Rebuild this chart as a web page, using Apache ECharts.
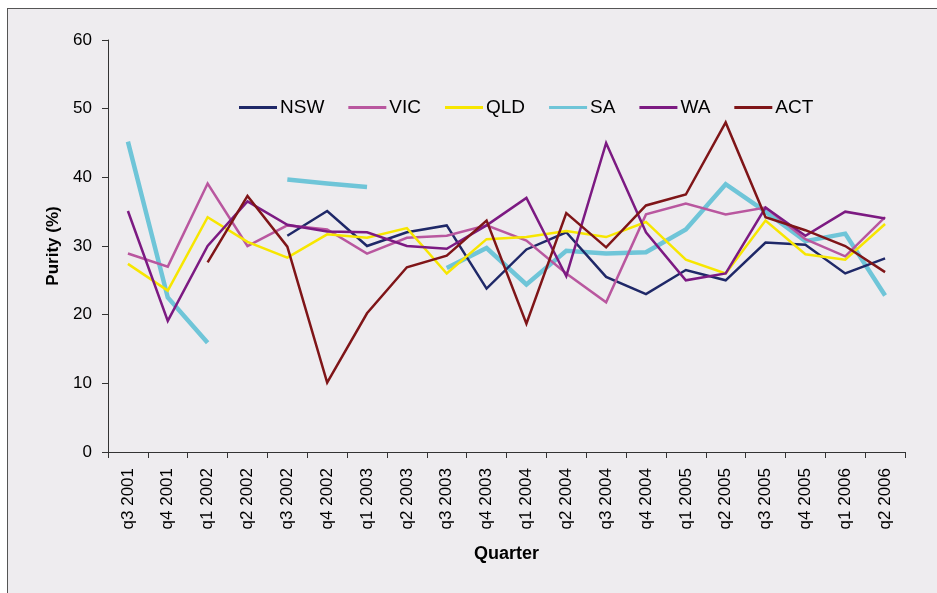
<!DOCTYPE html>
<html>
<head>
<meta charset="utf-8">
<script src="https://cdn.jsdelivr.net/npm/echarts@6/dist/echarts.min.js"></script>
<style>
html,body{margin:0;padding:0;background:#fff;}
#frame{position:absolute;left:7px;top:8px;width:940px;height:600px;background:#eeecef;border-left:1px solid #555;border-top:1px solid #555;}
#chart{position:absolute;left:0;top:0;width:937px;height:593px;}
</style>
</head>
<body>
<div id="frame"></div>
<div id="chart"></div>
<script>
var quarters = ['q3 2001','q4 2001','q1 2002','q2 2002','q3 2002','q4 2002','q1 2003','q2 2003','q3 2003','q4 2003',
    'q1 2004','q2 2004','q3 2004','q4 2004','q1 2005','q2 2005','q3 2005','q4 2005','q1 2006','q2 2006'];
var nsw = [null,null,null,null,31.5,35.1,30,32,33,23.8,29.5,32,25.5,23,26.5,25,30.5,30.2,26,28.2];
var vic = [28.9,27,39.1,30,33,32.4,28.9,31.2,31.5,33,30.8,26,21.8,34.6,36.2,34.6,35.6,31,28.5,34.2];
var qld = [27.4,23.5,34.2,30.6,28.3,31.7,31.2,32.6,26,31,31.3,32.2,31.3,33.5,28,26,33.7,28.8,28,33.2];
var sa = [45.2,22.5,15.9,null,39.7,39.1,38.6,null,26.8,29.7,24.4,29.3,28.9,29.1,32.4,39,35,30.7,31.8,22.8];
var wa = [35.1,19.1,30,36.5,33.1,32.1,32,30,29.6,33,37,25.6,45,32,25,26,35.6,31.5,35,34];
var act = [null,null,27.6,37.3,29.9,10.1,20.2,26.9,28.6,33.7,18.7,34.8,29.8,35.9,37.5,48,34.2,32.3,30,26.2];
var yTicks = [0,10,20,30,40,50,60];

var names = ['NSW','VIC','QLD','SA','WA','ACT'];
var values = [nsw, vic, qld, sa, wa, act];
var colors = ['#1f2868','#b9579f','#f7e600','#6fc5d8','#7c1a82','#7f1518'];
var widths = [2.5, 2.5, 2.5, 4.5, 2.5, 2.5];

var option = {
    animation: false,
    textStyle: { fontFamily: 'Liberation Sans, Arial, sans-serif', color: '#000' },
    grid: {
        left: 108,
        right: 32,
        top: 40,
        bottom: 141
    },
    legend: {
        left: 234,
        top: 93,
        itemWidth: 38,
        itemHeight: 3,
        itemGap: 24,
        icon: 'rect',
        textStyle: { fontSize: 19, color: '#000', padding: [0, 0, 0, -2] },
        data: names
    },
    xAxis: {
        type: 'category',
        data: quarters,
        boundaryGap: true,
        name: 'Quarter',
        nameLocation: 'middle',
        nameGap: 93,
        nameTextStyle: { fontSize: 18, fontWeight: 'bold', color: '#000' },
        axisLine: { lineStyle: { color: '#333', width: 1 } },
        axisTick: { show: true, length: 6, lineStyle: { color: '#333' } },
        axisLabel: { rotate: 90, fontSize: 17, color: '#000', margin: 16, interval: 0 }
    },
    yAxis: {
        type: 'value',
        min: 0,
        max: 60,
        interval: 10,
        name: 'Purity (%)',
        nameLocation: 'middle',
        nameGap: 46,
        nameTextStyle: { fontSize: 17, fontWeight: 'bold', color: '#000' },
        splitLine: { show: false },
        axisLine: { show: true, lineStyle: { color: '#333', width: 1 } },
        axisTick: { show: true, length: 6, lineStyle: { color: '#333' } },
        axisLabel: {
            fontSize: 17, color: '#000', margin: 16,
            formatter: function (v) { return yTicks.indexOf(v) >= 0 ? String(v) : ''; }
        }
    },
    series: function () {
        var serie = [];
        for (var i = 0; i < names.length; i++) {
            serie.push({
                name: names[i],
                type: 'line',
                data: values[i],
                showSymbol: false,
                symbol: 'none',
                connectNulls: false,
                z: i === 3 ? 1 : 2,
                itemStyle: { color: colors[i] },
                lineStyle: { color: colors[i], width: widths[i], join: 'miter' }
            });
        }
        return serie;
    }()
};

var myChart = echarts.init(document.getElementById('chart'));
myChart.setOption(option);
</script>
</body>
</html>
